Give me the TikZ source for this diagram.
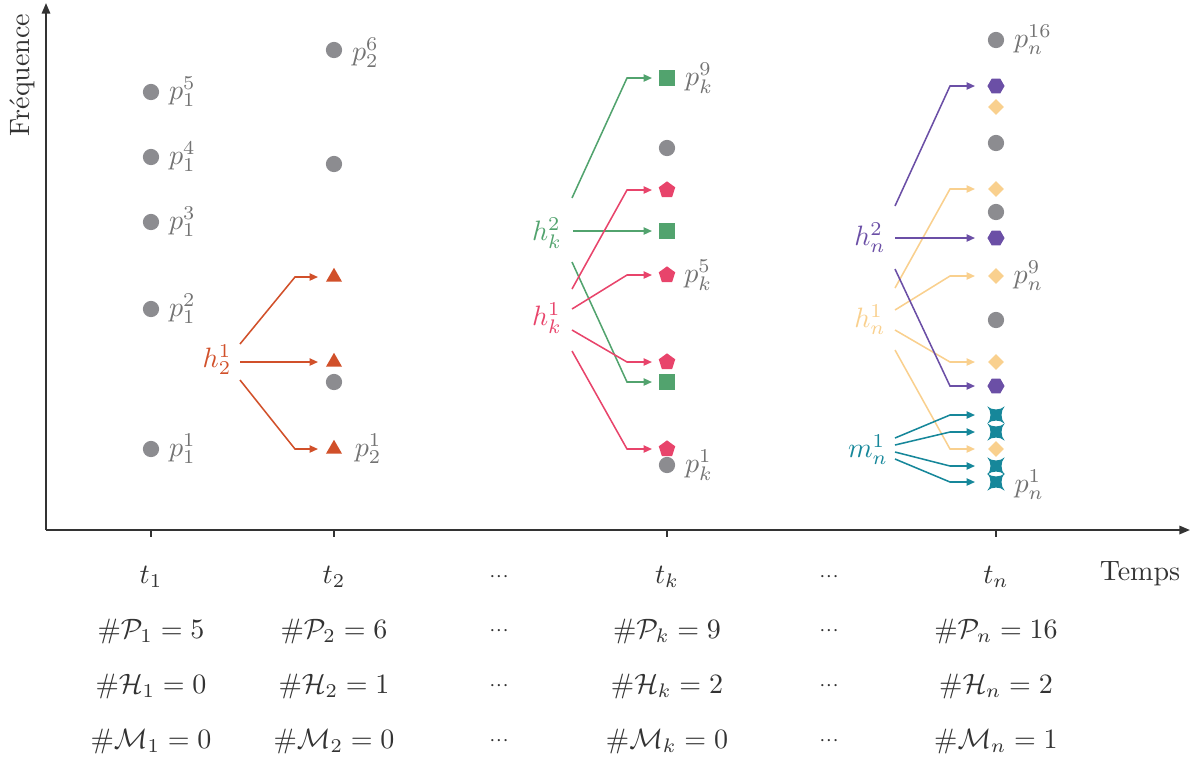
\documentclass[tikz,border=0pt]{standalone}
\usetikzlibrary{shapes.geometric,arrows.meta,calc}
\definecolor{cgray}{HTML}{8C8C90}
\definecolor{clabel}{HTML}{737373}
\definecolor{caxis}{HTML}{333333}
\definecolor{corange}{HTML}{D1502A}
\definecolor{cgreen}{HTML}{52A36E}
\definecolor{cpink}{HTML}{E8446B}
\definecolor{cpurple}{HTML}{6B4FA6}
\definecolor{cyellow}{HTML}{F9D08E}
\definecolor{cteal}{HTML}{16879A}
\begin{document}
\begin{tikzpicture}[x=0.357pt,y=-0.357pt,
  mk/.style={inner sep=0pt, outer sep=0pt},
  dot/.style={mk, circle, fill=cgray, minimum size=5.8pt},
  tri/.style={mk, regular polygon, regular polygon sides=3, fill=corange, minimum size=6.6pt},
  sq/.style={mk, rectangle, fill=cgreen, minimum size=5.9pt},
  pent/.style={mk, regular polygon, regular polygon sides=5, fill=cpink, minimum size=6.2pt},
  hexa/.style={mk, regular polygon, regular polygon sides=6, fill=cpurple, minimum size=6.1pt},
  diam/.style={mk, diamond, fill=cyellow, minimum size=5.6pt},
  astar/.style={mk, rectangle, minimum size=6.2pt, path picture={
    \fill[cteal] (path picture bounding box.center) ++(-3.1pt,3.1pt)
      .. controls +(1.5pt,-1.5pt) and +(-1.5pt,-1.5pt) .. ++(6.2pt,0pt)
      .. controls +(-1.5pt,-1.5pt) and +(-1.5pt,1.5pt) .. ++(0pt,-6.2pt)
      .. controls +(-1.5pt,1.5pt) and +(1.5pt,1.5pt) .. ++(-6.2pt,0pt)
      .. controls +(1.5pt,1.5pt) and +(1.5pt,-1.5pt) .. ++(0pt,6.2pt) -- cycle;}},
  lbl/.style={text=clabel, anchor=west},
  arr/.style={-{Triangle[length=3pt,width=2.6pt]}, line width=0.55pt},
  axis/.style={-{Triangle[length=3.8pt,width=3pt]}, line width=0.7pt, draw=caxis},
  tick/.style={line width=0.7pt, draw=caxis},
  btxt/.style={text=caxis},
  dts/.style={text=caxis}
]
\useasboundingbox (0,0) rectangle (1197,757);

% axes
\coordinate (O) at (46,530);
\coordinate (Ytop) at (46,3);
\coordinate (Xend) at (1190,530);
\draw[axis] (O) -- (Ytop);
\draw[axis] (O) -- (Xend);
\node[btxt, rotate=90] (freq) at (22,75) {Fréquence};
\node[btxt] (temps) at (1140,574) {Temps};

% ticks
\foreach \x/\n in {151/a,334/b,667/c,996/d}{
  \coordinate (tk\n) at (\x,530);
  \draw[tick] (tk\n) -- ++(0,7);
}

% bottom labels
\node[btxt] (lt1) at (151,577) {$t_1$};
\node[btxt] (lt2) at (334,577) {$t_2$};
\node[dts] (ltd1) at (499,577) {$\scriptstyle\cdots$};
\node[btxt] (ltk) at (667,577) {$t_k$};
\node[dts] (ltd2) at (829,577) {$\scriptstyle\cdots$};
\node[btxt] (ltn) at (996,577) {$t_n$};

\node[btxt] (P1) at (151,631) {$\#\mathcal{P}_1 = 5$};
\node[btxt] (P2) at (334,631) {$\#\mathcal{P}_2 = 6$};
\node[dts] (Pd1) at (499,631) {$\scriptstyle\cdots$};
\node[btxt] (Pk) at (667,631) {$\#\mathcal{P}_k = 9$};
\node[dts] (Pd2) at (829,631) {$\scriptstyle\cdots$};
\node[btxt] (Pn) at (996,631) {$\#\mathcal{P}_n = 16$};

\node[btxt] (H1) at (151,686) {$\#\mathcal{H}_1 = 0$};
\node[btxt] (H2) at (334,686) {$\#\mathcal{H}_2 = 1$};
\node[dts] (Hd1) at (499,686) {$\scriptstyle\cdots$};
\node[btxt] (Hk) at (667,686) {$\#\mathcal{H}_k = 2$};
\node[dts] (Hd2) at (829,686) {$\scriptstyle\cdots$};
\node[btxt] (Hn) at (996,686) {$\#\mathcal{H}_n = 2$};

\node[btxt] (M1) at (151,741) {$\#\mathcal{M}_1 = 0$};
\node[btxt] (M2) at (334,741) {$\#\mathcal{M}_2 = 0$};
\node[dts] (Md1) at (499,741) {$\scriptstyle\cdots$};
\node[btxt] (Mk) at (667,741) {$\#\mathcal{M}_k = 0$};
\node[dts] (Md2) at (829,741) {$\scriptstyle\cdots$};
\node[btxt] (Mn) at (996,741) {$\#\mathcal{M}_n = 1$};

% column t1
\node[dot] (a5) at (151,92) {};
\node[dot] (a4) at (151,157) {};
\node[dot] (a3) at (151,222) {};
\node[dot] (a2) at (151,309) {};
\node[dot] (a1) at (151,449) {};
\node[lbl] (la5) at (a5.east) {$p_1^5$};
\node[lbl] (la4) at (a4.east) {$p_1^4$};
\node[lbl] (la3) at (a3.east) {$p_1^3$};
\node[lbl] (la2) at (a2.east) {$p_1^2$};
\node[lbl] (la1) at (a1.east) {$p_1^1$};

% column t2
\node[dot] (b6) at (334,50) {};
\node[dot] (b5) at (334,164) {};
\node[tri] (b4) at (334,277) {};
\node[tri] (b3) at (334,362) {};
\node[dot] (b2) at (334,382) {};
\node[tri] (b1) at (334,449) {};
\node[lbl] (lb6) at ([yshift=-1pt]b6.east) {$p_2^6$};
\node[lbl] (lb1) at ([xshift=2pt]b1.east) {$p_2^1$};
\node[text=corange] (h21) at (217,360) {$h_2^1$};
\draw[arr,corange] ($(h21)+(23,-16)$) -- (295,0 |- b4) -- ($(b4)+(-16,0)$);
\draw[arr,corange] ($(h21)+(23,2)$) -- ($(b3)+(-16,0)$);
\draw[arr,corange] ($(h21)+(23,20)$) -- (295,0 |- b1) -- ($(b1)+(-16,0)$);

% column tk
\node[sq] (k9) at (667,78) {};
\node[dot] (k8) at (667,148) {};
\node[pent] (k7) at (667,190) {};
\node[sq] (k6) at (667,231) {};
\node[pent] (k5) at (667,275) {};
\node[pent] (k4) at (667,362) {};
\node[sq] (k3) at (667,382) {};
\node[pent] (k2) at (667,449) {};
\node[dot] (k1) at (667,465) {};
\node[lbl] (lk9) at (k9.east) {$p_k^9$};
\node[lbl] (lk5) at (k5.east) {$p_k^5$};
\node[lbl] (lk1) at (k1.east) {$p_k^1$};
\node[text=cgreen] (hk2) at (547,233) {$h_k^2$};
\node[text=cpink] (hk1) at (547,318) {$h_k^1$};
\draw[arr,cgreen] ($(hk2)+(25,-35)$) -- (627,0 |- k9) -- ($(k9)+(-15,0)$);
\draw[arr,cgreen] ($(hk2)+(26,-2)$) -- ($(k6)+(-15,0)$);
\draw[arr,cgreen] ($(hk2)+(25,29)$) -- (627,0 |- k3) -- ($(k3)+(-15,0)$);
\draw[arr,cpink] ($(hk1)+(25,-29)$) -- (627,0 |- k7) -- ($(k7)+(-15,0)$);
\draw[arr,cpink] ($(hk1)+(25,-9)$) -- (627,0 |- k5) -- ($(k5)+(-15,0)$);
\draw[arr,cpink] ($(hk1)+(25,12)$) -- (627,0 |- k4) -- ($(k4)+(-15,0)$);
\draw[arr,cpink] ($(hk1)+(25,33)$) -- (627,0 |- k2) -- ($(k2)+(-15,0)$);

% column tn
\node[dot] (n16) at (996,40) {};
\node[hexa] (n15) at (996,86) {};
\node[diam] (n14) at (996,107) {};
\node[dot] (n13) at (996,143) {};
\node[diam] (n12) at (996,189) {};
\node[dot] (n11) at (996,212) {};
\node[hexa] (n10) at (996,238) {};
\node[diam] (n9) at (996,276) {};
\node[dot] (n8) at (996,320) {};
\node[diam] (n7) at (996,362) {};
\node[hexa] (n6) at (996,386) {};
\node[astar] (n5) at (996,415) {};
\node[astar] (n4) at (996,432) {};
\node[diam] (n3) at (996,449) {};
\node[astar] (n2) at (996,466) {};
\node[astar] (n1) at (996,482) {};
\node[lbl] (ln16) at (n16.east) {$p_n^{16}$};
\node[lbl] (ln9) at (n9.east) {$p_n^9$};
\node[lbl] (ln1) at ([yshift=-1pt]n1.east) {$p_n^1$};
\node[text=cpurple] (hn2) at (870,238) {$h_n^2$};
\node[text=cyellow] (hn1) at (870,320) {$h_n^1$};
\node[text=cteal] (mn1) at (868,450) {$m_n^1$};
\draw[arr,cyellow] ($(hn1)+(25,-32)$) -- (950,0 |- n12) -- ($(n12)+(-21,0)$);
\draw[arr,cyellow] ($(hn1)+(25,-10)$) -- (950,0 |- n9) -- ($(n9)+(-21,0)$);
\draw[arr,cyellow] ($(hn1)+(25,10)$) -- (950,0 |- n7) -- ($(n7)+(-21,0)$);
\draw[arr,cyellow] ($(hn1)+(25,30)$) -- (950,0 |- n3) -- ($(n3)+(-21,0)$);
\draw[arr,cpurple] ($(hn2)+(25,-32)$) -- (950,0 |- n15) -- ($(n15)+(-21,0)$);
\draw[arr,cpurple] ($(hn2)+(25,0)$) -- ($(n10)+(-21,0)$);
\draw[arr,cpurple] ($(hn2)+(25,31)$) -- (950,0 |- n6) -- ($(n6)+(-21,0)$);
\draw[arr,cteal] ($(mn1)+(27,-12)$) -- (950,0 |- n5) -- ($(n5)+(-21,0)$);
\draw[arr,cteal] ($(mn1)+(27,-5)$) -- (950,0 |- n4) -- ($(n4)+(-21,0)$);
\draw[arr,cteal] ($(mn1)+(27,2)$) -- (950,0 |- n2) -- ($(n2)+(-21,0)$);
\draw[arr,cteal] ($(mn1)+(27,9)$) -- (950,0 |- n1) -- ($(n1)+(-21,0)$);
\end{tikzpicture}
\end{document}
